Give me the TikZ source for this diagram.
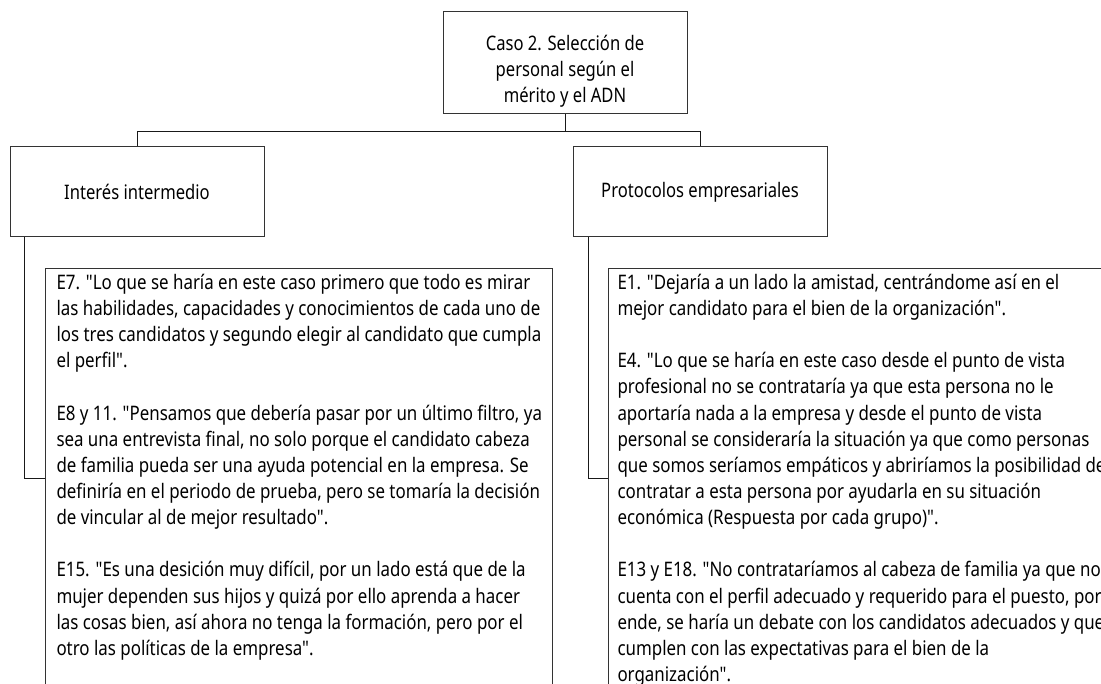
\documentclass[tikz,border=0pt]{standalone}
\usepackage{fontspec}
\setmainfont[FakeStretch=0.83, Ligatures=TeXOff]{Noto Sans}
\newfontfamily\quotefont[FakeStretch=0.845, Ligatures=TeXOff]{Noto Sans}
\usetikzlibrary{positioning}

\begin{document}
\begin{tikzpicture}[x=1pt, y=-1pt]
\tikzset{BoxStyle/.style = {shape=rectangle, draw=black!80, line width=1pt, align=center, inner sep=0pt, font=\fontsize{20}{26}\selectfont}}
\tikzset{QuoteStyle/.style = {shape=rectangle, draw=black!80, line width=1pt, anchor=north west, inner xsep=11pt, inner ysep=0pt, font=\quotefont\fontsize{20}{26.15}\selectfont}}
\tikzset{LinkStyle/.style = {draw=black!90, line width=1pt}}
  \useasboundingbox (0,0) rectangle (1101,684);
  \clip (0,0) rectangle (1101,684);

  \node[BoxStyle, minimum width=244pt, minimum height=102pt] (caso) at (565,63) {\rule{0pt}{31pt}Caso 2. Selección de\\personal según el\\mérito y el ADN};
  \node[BoxStyle, minimum width=254pt, minimum height=90pt] (interes) at (137,192) {Interés intermedio};
  \node[BoxStyle, minimum width=254pt, minimum height=90pt] (protocolos) at (700,192) {Protocolos empresariales};

  \node[QuoteStyle] (citasA) at (45,268) {\parbox[c][420pt][t]{485pt}{\vspace*{2.5pt}\begin{tabular}[t]{@{}l@{}}
E7. "Lo que se haría en este caso primero que todo es mirar\\
las habilidades, capacidades y conocimientos de cada uno de\\
los tres candidatos y segundo elegir al candidato que cumpla\\
el perfil".\\
\\
E8 y 11. "Pensamos que debería pasar por un último filtro, ya\\
sea una entrevista final, no solo porque el candidato cabeza\\
de familia pueda ser una ayuda potencial en la empresa. Se\\
definiría en el periodo de prueba, pero se tomaría la decisión\\
de vincular al de mejor resultado".\\
\\
E15. "Es una desición muy difícil, por un lado está que de la\\
mujer dependen sus hijos y quizá por ello aprenda a hacer\\
las cosas bien, así ahora no tenga la formación, pero por el\\
otro las políticas de la empresa".
\end{tabular}}};

  \node[QuoteStyle, inner xsep=9pt] (citasB) at (608,268) {\parbox[c][420pt][t]{520pt}{\vspace*{2.5pt}\begin{tabular}[t]{@{}l@{}}
E1. "Dejaría a un lado la amistad, centrándome así en el\\
mejor candidato para el bien de la organización".\\
\\
E4. "Lo que se haría en este caso desde el punto de vista\\
profesional no se contrataría ya que esta persona no le\\
aportaría nada a la empresa y desde el punto de vista\\
personal se consideraría la situación ya que como personas\\
que somos seríamos empáticos y abriríamos la posibilidad de\\
contratar a esta persona por ayudarla en su situación\\
económica (Respuesta por cada grupo)".\\
\\
E13 y E18. "No contrataríamos al cabeza de familia ya que no\\
cuenta con el perfil adecuado y requerido para el puesto, por\\
ende, se haría un debate con los candidatos adecuados y que\\
cumplen con las expectativas para el bien de la\\
organización".
\end{tabular}}};

  \coordinate (bus) at (565,132);
  \draw[LinkStyle] (caso.south) -- (bus);
  \draw[LinkStyle] (bus) -| (interes.north);
  \draw[LinkStyle] (bus) -| (protocolos.north);
  \draw[LinkStyle] ([xshift=15pt]interes.south west) |- (citasA.west);
  \draw[LinkStyle] ([xshift=16pt]protocolos.south west) |- (citasB.west);
\end{tikzpicture}
\end{document}
